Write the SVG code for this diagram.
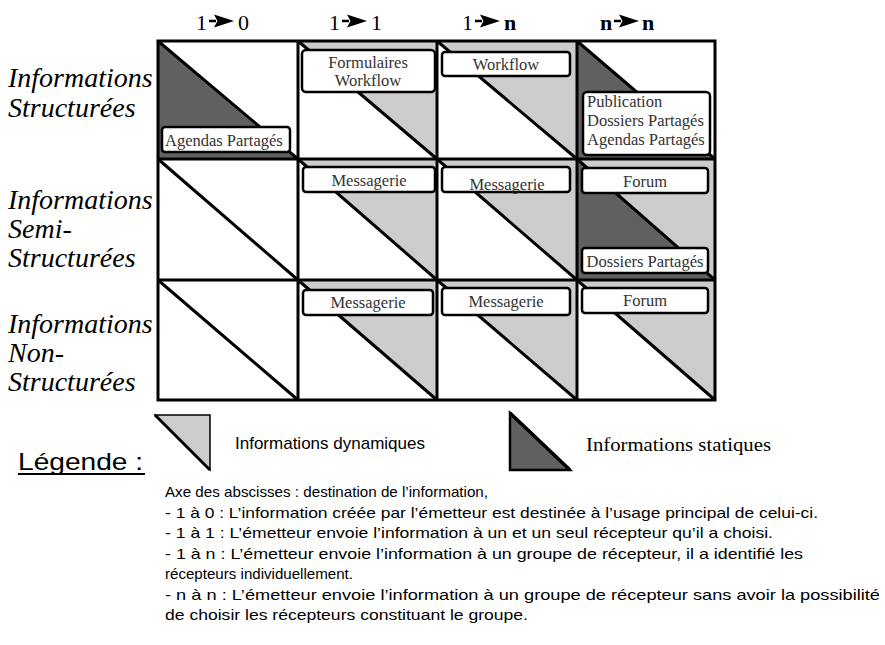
<svg xmlns="http://www.w3.org/2000/svg" width="885" height="645" viewBox="0 0 885 645">
<style>
.hdr{font-family:"Liberation Serif","Times New Roman",serif;font-size:22px;fill:#000}
.row{font-family:"Liberation Serif","Times New Roman",serif;font-style:italic;font-size:28px;fill:#000}
.lbl{font-family:"Liberation Serif","Times New Roman",serif;font-size:16.5px;fill:#333}
.box{fill:#fff;stroke:#000;stroke-width:2.5}
.lt{fill:#cccccc}
.dk{fill:#606060}
.diag{stroke:#000;stroke-width:3;fill:none}
.grid{stroke:#000;stroke-width:3;fill:none}
.sans{font-family:"Liberation Sans",Arial,sans-serif;fill:#000}
.c{text-anchor:middle}
</style>
<defs>
<path id="arr" d="M0,-1.2 H7 V1.2 H0 Z M5,-6.5 L25,0 L5,6.5 L8.5,0 Z" fill="#000"/>
</defs>

<g id="headers">
<text class="hdr" x="196" y="30">1</text><use href="#arr" x="209" y="21"/><text class="hdr" x="238" y="30">0</text>
<text class="hdr" x="329" y="30">1</text><use href="#arr" x="342" y="21"/><text class="hdr" x="371" y="30">1</text>
<text class="hdr" x="462" y="30">1</text><use href="#arr" x="475" y="21"/><text class="hdr" x="504" y="30" font-weight="bold">n</text>
<text class="hdr" x="600" y="30" font-weight="bold">n</text><use href="#arr" x="614" y="21"/><text class="hdr" x="642" y="30" font-weight="bold">n</text>
</g>

<g id="row-labels">
<text class="row" x="8" y="87">Informations</text>
<text class="row" x="8" y="117">Structurées</text>
<text class="row" x="8" y="209">Informations</text>
<text class="row" x="8" y="238">Semi-</text>
<text class="row" x="8" y="267">Structurées</text>
<text class="row" x="8" y="333">Informations</text>
<text class="row" x="8" y="362">Non-</text>
<text class="row" x="8" y="391">Structurées</text>
</g>

<g id="cell-r1c1">
<polygon class="dk" points="158,41 158,159 298,159"/>
<line class="diag" x1="158" y1="41" x2="298" y2="159"/>
<rect class="box" x="162" y="127" width="128" height="25" rx="3"/>
<text class="lbl" x="165" y="146">Agendas Partagés</text>
</g>
<g id="cell-r1c2">
<polygon class="lt" points="298,41 437,41 437,159"/>
<line class="diag" x1="298" y1="41" x2="437" y2="159"/>
<rect class="box" x="302" y="50" width="133" height="42" rx="4"/>
<text class="lbl c" x="368" y="68">Formulaires</text>
<text class="lbl c" x="368" y="86">Workflow</text>
</g>
<g id="cell-r1c3">
<polygon class="lt" points="437,41 577,41 577,159"/>
<line class="diag" x1="437" y1="41" x2="577" y2="159"/>
<rect class="box" x="442" y="52" width="128" height="24" rx="3"/>
<text class="lbl c" x="506" y="70">Workflow</text>
</g>
<g id="cell-r1c4">
<polygon class="dk" points="577,41 577,159 715,159"/>
<line class="diag" x1="577" y1="41" x2="715" y2="159"/>
<rect class="box" x="583" y="92" width="127" height="63" rx="4"/>
<text class="lbl" x="587" y="107">Publication</text>
<text class="lbl" x="587" y="126">Dossiers Partagés</text>
<text class="lbl" x="587" y="145">Agendas Partagés</text>
</g>

<g id="cell-r2c1">
<line class="diag" x1="158" y1="159" x2="298" y2="280"/>
</g>
<g id="cell-r2c2">
<polygon class="lt" points="298,159 437,159 437,280"/>
<line class="diag" x1="298" y1="159" x2="437" y2="280"/>
<rect class="box" x="303" y="167" width="132" height="25" rx="3"/>
<text class="lbl c" x="369" y="186">Messagerie</text>
</g>
<g id="cell-r2c3">
<polygon class="lt" points="437,159 577,159 577,280"/>
<line class="diag" x1="437" y1="159" x2="577" y2="280"/>
<rect class="box" x="442" y="167" width="128" height="25" rx="3"/>
<text class="lbl c" x="507" y="190">Messagerie</text>
</g>
<g id="cell-r2c4">
<polygon class="lt" points="577,159 715,159 715,280"/>
<polygon class="dk" points="577,159 577,280 715,280"/>
<line class="diag" x1="577" y1="159" x2="715" y2="280"/>
<rect class="box" x="582" y="168" width="126" height="25" rx="3"/>
<text class="lbl c" x="645" y="187">Forum</text>
<rect class="box" x="582" y="248" width="126" height="25" rx="3"/>
<text class="lbl c" x="645" y="267">Dossiers Partagés</text>
</g>

<g id="cell-r3c1">
<line class="diag" x1="158" y1="280" x2="298" y2="400"/>
</g>
<g id="cell-r3c2">
<polygon class="lt" points="298,280 437,280 437,400"/>
<line class="diag" x1="298" y1="280" x2="437" y2="400"/>
<rect class="box" x="303" y="290" width="130" height="25" rx="3"/>
<text class="lbl c" x="368" y="308">Messagerie</text>
</g>
<g id="cell-r3c3">
<polygon class="lt" points="437,280 577,280 577,400"/>
<line class="diag" x1="437" y1="280" x2="577" y2="400"/>
<rect class="box" x="442" y="288" width="128" height="27" rx="3"/>
<text class="lbl c" x="506" y="307">Messagerie</text>
</g>
<g id="cell-r3c4">
<polygon class="lt" points="577,280 715,280 715,400"/>
<line class="diag" x1="577" y1="280" x2="715" y2="400"/>
<rect class="box" x="582" y="288" width="126" height="25" rx="3"/>
<text class="lbl c" x="645" y="306">Forum</text>
</g>

<g id="grid">
<rect class="grid" x="158" y="41" width="557" height="359" stroke-width="3.5"/>
<line class="grid" x1="298" y1="41" x2="298" y2="400"/>
<line class="grid" x1="437" y1="41" x2="437" y2="400"/>
<line class="grid" x1="577" y1="41" x2="577" y2="400"/>
<line class="grid" x1="158" y1="159" x2="715" y2="159"/>
<line class="grid" x1="158" y1="280" x2="715" y2="280"/>
</g>

<g id="legend">
<text class="sans" x="18" y="470" font-size="24" textLength="125" lengthAdjust="spacingAndGlyphs">Légende :</text>
<line x1="18" y1="474" x2="145" y2="474" stroke="#000" stroke-width="1.8"/>
<polygon points="155,415 210,415 210,470" fill="#cccccc" stroke="#000" stroke-width="1.5"/>
<line x1="155" y1="415" x2="210" y2="470" stroke="#000" stroke-width="3"/>
<text class="sans" x="235" y="449" font-size="17">Informations dynamiques</text>
<polygon points="510,413 510,470 570,470" fill="#606060" stroke="#000" stroke-width="2.5"/>
<line x1="510" y1="413" x2="570" y2="470" stroke="#000" stroke-width="3.5"/>
<text x="586" y="451" font-family="Liberation Serif, Times New Roman, serif" font-size="18" textLength="185" lengthAdjust="spacingAndGlyphs">Informations statiques</text>
</g>

<g id="notes" class="sans" font-size="15">
<text class="sans" x="165" y="497" textLength="323" lengthAdjust="spacingAndGlyphs">Axe des abscisses : destination de l’information,</text>
<text class="sans" x="165" y="518" textLength="653" lengthAdjust="spacingAndGlyphs">- 1 à 0 : L’information créée par l’émetteur est destinée à l’usage principal de celui-ci.</text>
<text class="sans" x="165" y="538" textLength="608" lengthAdjust="spacingAndGlyphs">- 1 à 1 : L’émetteur envoie l’information à un et un seul récepteur qu’il a choisi.</text>
<text class="sans" x="165" y="559" textLength="638" lengthAdjust="spacingAndGlyphs">- 1 à n : L’émetteur envoie l’information à un groupe de récepteur, il a identifié les</text>
<text class="sans" x="165" y="579" textLength="188" lengthAdjust="spacingAndGlyphs">récepteurs individuellement.</text>
<text class="sans" x="165" y="600" textLength="715" lengthAdjust="spacingAndGlyphs">- n à n : L’émetteur envoie l’information à un groupe de récepteur sans avoir la possibilité</text>
<text class="sans" x="165" y="620" textLength="363" lengthAdjust="spacingAndGlyphs">de choisir les récepteurs constituant le groupe.</text>
</g>
</svg>
